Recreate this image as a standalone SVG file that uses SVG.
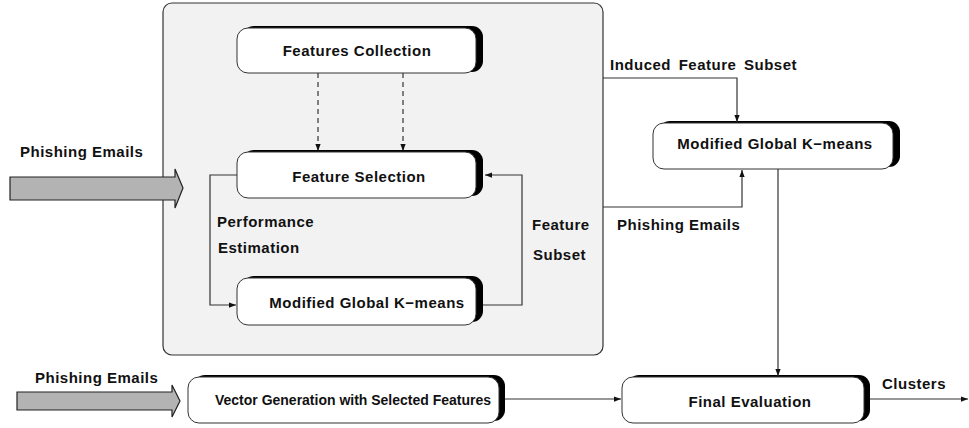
<svg xmlns="http://www.w3.org/2000/svg" width="969" height="428" viewBox="0 0 969 428">
<style>
.t{font-family:"Liberation Sans",Arial,sans-serif;font-weight:bold;font-size:15px;letter-spacing:0.5px;fill:#111}
.c{text-anchor:middle}
.sh{fill:#000}
.bx{fill:#fff;stroke:#333;stroke-width:1}
.ln{fill:none;stroke:#333;stroke-width:1.2}
.ds{fill:none;stroke:#333;stroke-width:1.2;stroke-dasharray:5,4}
.ga{fill:#b3b3b3;stroke:#222;stroke-width:1.2}
</style>
<defs>
<marker id="ah" viewBox="0 0 8 8" refX="8" refY="4" markerWidth="7" markerHeight="7" orient="auto" markerUnits="userSpaceOnUse">
<path d="M0,1 L8,4 L0,7 z" fill="#111"/>
</marker>
</defs>
<rect width="969" height="428" fill="#fff"/>
<g id="panel">
<rect x="163" y="3" width="440" height="352" rx="9" fill="#f2f2f2" stroke="#333" stroke-width="1.2"/>
</g>
<g id="features-collection">
<rect class="sh" x="243" y="26" width="240" height="46" rx="11"/>
<rect class="bx" x="237" y="28" width="239" height="45" rx="11"/>
<text class="t c" x="357" y="56">Features Collection</text>
</g>
<g id="feature-selection">
<rect class="sh" x="243" y="150" width="240" height="46" rx="11"/>
<rect class="bx" x="237" y="152" width="239" height="46" rx="11"/>
<text class="t c" x="359" y="182">Feature Selection</text>
</g>
<g id="mgk-inner">
<rect class="sh" x="243" y="276" width="240" height="46" rx="11"/>
<rect class="bx" x="237" y="278" width="239" height="47" rx="11"/>
<text class="t c" x="367" y="308">Modified Global K−means</text>
</g>
<g id="mgk-right">
<rect class="sh" x="659" y="121" width="241" height="46" rx="11"/>
<rect class="bx" x="653" y="123" width="240" height="46" rx="11"/>
<text class="t c" x="775" y="149">Modified Global K−means</text>
</g>
<g id="vector-generation">
<rect class="sh" x="194" y="375" width="311" height="46" rx="11"/>
<rect class="bx" x="188" y="377" width="311" height="46" rx="11"/>
<text class="t" x="215" y="405" textLength="276" lengthAdjust="spacingAndGlyphs" style="letter-spacing:0">Vector Generation with Selected Features</text>
</g>
<g id="final-evaluation">
<rect class="sh" x="628" y="375" width="242" height="46" rx="11"/>
<rect class="bx" x="622" y="377" width="242" height="46" rx="11"/>
<text class="t c" x="750" y="407">Final Evaluation</text>
</g>
<g id="input-top">
<text class="t" x="20" y="157">Phishing Emails</text>
<path class="ga" d="M10,177 H175 V169 L183,188 L175,208 V200 H10 Z"/>
</g>
<g id="input-bottom">
<text class="t" x="35" y="383">Phishing Emails</text>
<path class="ga" d="M17,392 H172 V385 L180,401 L172,417 V410 H17 Z"/>
</g>
<g id="connectors">
<path class="ds" d="M318,73 V151" marker-end="url(#ah)"/>
<path class="ds" d="M403,73 V151" marker-end="url(#ah)"/>
<path class="ln" d="M237,175 H210 V305 H236" marker-end="url(#ah)"/>
<path class="ln" d="M483,305 H522 V175 H485" marker-end="url(#ah)"/>
<path class="ln" d="M603,78 H737 V122" marker-end="url(#ah)"/>
<path class="ln" d="M603,207 H742 V170" marker-end="url(#ah)"/>
<path class="ln" d="M778,169 V376" marker-end="url(#ah)"/>
<path class="ln" d="M505,399 H621" marker-end="url(#ah)"/>
<path class="ln" d="M870,399 H968" marker-end="url(#ah)"/>
</g>
<g id="labels">
<text class="t" x="217" y="227">Performance</text>
<text class="t" x="218" y="253">Estimation</text>
<text class="t" x="532" y="230">Feature</text>
<text class="t" x="533" y="260">Subset</text>
<text class="t" x="610" y="70" word-spacing="3">Induced Feature Subset</text>
<text class="t" x="617" y="230">Phishing Emails</text>
<text class="t" x="882" y="389">Clusters</text>
</g>
</svg>
